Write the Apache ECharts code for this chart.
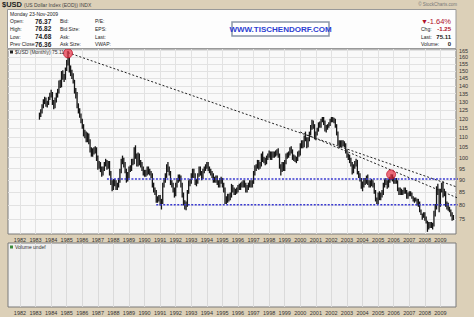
<!DOCTYPE html>
<html>
<head>
<meta charset="utf-8">
<script src="https://cdn.jsdelivr.net/npm/echarts/dist/echarts.min.js"></script>
<style>
html, body { margin: 0; padding: 0; background: #dcd0b8; }
#chart { width: 474px; height: 317px; }
</style>
</head>
<body>
<div id="chart"></div>
<script>
// year tick labels and price tick labels (log scale)
var yearTicks = [1982, 1983, 1984, 1985, 1986, 1987, 1988, 1989, 1990, 1991, 1992, 1993, 1994, 1995,
  1996, 1997, 1998, 1999, 2000, 2001, 2002, 2003, 2004, 2005, 2006, 2007, 2008, 2009];
var priceTicks = [75, 80, 85, 90, 95, 100, 105, 110, 115, 120, 125, 130, 135, 140, 145, 150, 155, 160, 165];

// monthly bars, first one is April 1983
var startYear = 1983, startMonth = 4;
var usdHigh = [
  123.5, 125.5, 128.5, 131.5, 133, 132.5, 130.5, 133, 135.5,                 // 1983
  137.5, 136, 131, 132.5, 135.5, 138, 143.5, 144, 150, 150.5, 148, 152.5,    // 1984
  158, 164.7, 160, 154, 151, 148.5, 144, 138.5, 136, 129, 126, 123,          // 1985
  120, 117, 114, 113, 112.5, 112, 109, 105, 104.5, 105, 105.5, 105,          // 1986
  101, 98.5, 98, 96, 96, 98, 99.5, 99, 98.5, 98.5, 94, 90,                   // 1987
  90.5, 90.5, 90, 89, 91, 95, 99.5, 101, 100, 98, 95, 93.5,                  // 1988
  96, 96.5, 99.5, 99.5, 105, 106, 102, 102.5, 102, 99, 98, 96,               // 1989
  94.5, 94.5, 96, 96, 95, 94, 93, 89, 87, 86, 83.5, 84,                      // 1990
  84, 82.5, 89, 91, 93, 97, 98, 96, 94, 90, 89, 87,                          // 1991
  89, 91, 92.5, 92.5, 92, 89, 85, 82, 81.5, 86, 90, 90.5,                    // 1992
  93, 95, 95, 93, 90.5, 93, 96, 96, 94, 95, 96, 97,                          // 1993
  98, 98, 96, 95, 94, 93, 91.5, 92, 92, 90, 91, 91.5,                        // 1994
  91, 89, 87, 83.5, 84.5, 84.5, 85, 88.5, 88, 87, 86.5, 87,                  // 1995
  88, 88.5, 89, 89.5, 90, 90, 89, 88, 89, 90, 90, 90,                        // 1996
  94, 96.5, 97, 99, 99, 98, 102, 103, 100.5, 100, 101, 102,                  // 1997
  103.5, 103, 103, 103, 103, 103.5, 104, 104.5, 102, 97, 98, 98,             // 1998
  99, 102, 102.5, 103, 105, 105.5, 104, 101.5, 101, 100.5, 103, 103.5,       // 1999
  107, 108.5, 108.5, 111, 113, 110, 110, 113, 116.5, 119.5, 119, 117,        // 2000
  113, 115, 118, 118.5, 120, 121, 121, 119, 116.5, 117, 118, 120,            // 2001
  121, 121, 120.5, 120, 117, 113, 108.5, 108.5, 108.5, 108.5, 108, 107,      // 2002
  104, 102, 101.5, 100, 98, 97, 98.5, 99.5, 99, 94, 93, 91,                  // 2003
  89.5, 91, 91, 92, 92.5, 90, 90, 90.5, 90, 89, 86, 83,                      // 2004
  85, 85.5, 85, 86, 89, 90.5, 91, 90, 90.5, 91.5, 92.6, 92.5,                // 2005
  91.5, 91, 91, 90, 87, 87, 86.5, 86, 87, 87, 86, 85,                        // 2006
  85.5, 85.5, 85, 83.5, 83, 83, 82.5, 82.5, 81.5, 78.5, 77, 77.5,            // 2007
  77.5, 76, 74.5, 74, 74, 74, 73.8, 78, 80.5, 87.5, 88.5, 86.5,              // 2008
  86.5, 89, 89.6, 86.5, 85.5, 81.5, 81, 79.5, 78.5, 77.5, 76.5               // 2009
];
var usdLow = [
  119.5, 121, 123, 126, 128.5, 127, 126.5, 128, 131,                         // 1983
  132.5, 128, 125.5, 126, 129.5, 132.5, 135, 138.5, 139, 144, 142.5, 144,    // 1984
  150, 154, 149, 146.5, 144.5, 141.5, 135, 132, 126, 123, 120.5, 117.5,      // 1985
  114.5, 110.5, 109.5, 107.5, 107.5, 106.5, 102.5, 100.5, 100.5, 101.5, 102, 98.5, // 1986
  94.5, 95, 93.5, 91.5, 92, 94, 96, 94.5, 95, 92, 88, 85.5,                  // 1987
  86, 87.5, 86, 86, 87, 89, 93, 97, 95.5, 93, 89, 89.5,                      // 1988
  91, 93.5, 94, 96.5, 97, 99.5, 96, 96, 96.5, 95.5, 94, 92,                  // 1989
  91.5, 91.5, 92, 92.5, 92, 91, 87, 85, 84, 81, 81, 81.5,                    // 1990
  80, 78.5, 80.5, 87, 89, 91, 93.5, 92, 88, 87, 85, 83,                      // 1991
  83.5, 87, 89, 89.5, 87, 83, 80, 78.5, 78.2, 79.5, 84.5, 87.5,              // 1992
  88.5, 91, 91, 88, 87.5, 88.5, 91.5, 92, 90, 90.5, 93, 94,                  // 1993
  95, 94, 93, 92, 91, 89, 89, 89, 88, 87, 87, 88.5,                          // 1994
  87, 85, 80.5, 80.5, 81, 81.5, 82, 83, 85, 84, 84, 84.5,                    // 1995
  85, 86, 86, 87, 87, 87, 85, 85, 86, 87, 87, 87,                            // 1996
  88.5, 92, 94, 95, 94.5, 95, 96, 98, 97.5, 96.5, 97, 99,                    // 1997
  100, 99, 99, 100, 100, 100.5, 101, 100, 95, 92, 93.5, 94,                  // 1998
  94, 97, 99.5, 100, 101, 102, 99, 98.5, 98, 97.5, 98.5, 100.5,              // 1999
  101, 104.5, 104.5, 105, 108, 104.5, 105, 108, 111, 114, 114.5, 109,        // 2000
  108.5, 111, 113, 115, 115, 118, 116.5, 113, 112.5, 114, 115, 116,          // 2001
  118, 118, 117.5, 115, 111, 106, 104.5, 105, 105, 105.5, 105, 102,          // 2002
  100, 99, 97.5, 96, 92.5, 93, 95, 96, 92.5, 91, 89.5, 86.5,                 // 2003
  85.5, 87, 88, 88.5, 88, 87, 87, 87.5, 87, 84.5, 81.5, 80.5,                // 2004
  80.5, 82, 82, 83, 84, 87, 88, 86.5, 87, 89, 90, 89.5,                      // 2005
  88.5, 88.5, 88.5, 85.5, 84, 84, 84, 84, 84.5, 84.5, 82.5, 82.5,            // 2006
  83.5, 83.5, 82.5, 81.5, 81, 81.5, 80, 79.5, 77.5, 76.5, 74.8, 75.5,        // 2007
  74.5, 73.5, 70.7, 71.5, 72, 72, 71.5, 72.5, 76, 78.5, 84, 77.5,            // 2008
  79.5, 85, 83, 83.5, 79.5, 78.5, 78, 77.5, 76, 74.5, 74.7                   // 2009
];

// hand drawn annotations: [year-month, value]
var trendUpper = [['1985-02', 163.5], ['2011-03', 84.8]];
var trendLower = [['2000-01', 112.8], ['2011-03', 80.2]];
var resistance = [['1987-08', 90.5], ['2011-03', 90.5]];
var support = [['1990-10', 80.3], ['2011-03', 80.3]];
var highlights = [['1985-02', 163], ['2005-11', 92.5]];

// month -> decimal year for the value x axis
function ym(s) { var p = s.split('-'); return +p[0] + (+p[1] - 1) / 12; }
function toXY(arr) { return arr.map(function (d) { return [ym(d[0]), d[1]]; }); }

var bars = usdHigh.map(function (h, i) {
  return [startYear + (startMonth - 1 + i) / 12, usdLow[i], h];
});

var chart = echarts.init(document.getElementById('chart'), null, { renderer: 'svg' });

var font = 'Liberation Sans';
function txt(x, y, s, size, opts) {
  opts = opts || {};
  return {
    type: 'text', x: x, y: y, z: 100,
    style: {
      text: s, fontSize: size, fontFamily: font,
      fontWeight: opts.bold ? 'bold' : 'normal',
      fill: opts.color || '#222',
      textAlign: opts.align || 'left', textVerticalAlign: 'middle'
    }
  };
}

function xAxisFor(idx) {
  return {
    type: 'value', gridIndex: idx,
    min: 1981.23, max: 2010,
    axisLine: { show: false },
    axisTick: { show: false, customValues: yearTicks },
    axisLabel: {
      customValues: yearTicks, fontSize: 5.5, fontFamily: font, color: '#333', margin: 3,
      formatter: function (v) { return String(Math.round(v)); }
    },
    splitLine: { show: true, lineStyle: { color: idx === 0 ? '#e2e2e2' : '#dadada', width: 1 } }
  };
}

var option = {
  animation: false,
  backgroundColor: '#dcd0b8',
  grid: [
    { left: 8, right: 18, top: 49, height: 185, show: true, backgroundColor: '#f9f9f9', borderColor: '#7a7a7a', borderWidth: 1 },
    { left: 8, right: 18, top: 243, height: 64, show: true, backgroundColor: '#f0f0f0', borderColor: '#7a7a7a', borderWidth: 1 }
  ],
  xAxis: [xAxisFor(0), xAxisFor(1)],
  yAxis: [
    {
      type: 'log', gridIndex: 0, position: 'right', logBase: 10,
      min: 70, max: 166.3,
      axisLine: { show: false },
      axisTick: { show: false, customValues: priceTicks },
      axisLabel: { customValues: priceTicks, fontSize: 5.5, fontFamily: font, color: '#333', margin: 3 },
      splitLine: { show: true, lineStyle: { color: '#e2e2e2' } }
    },
    { type: 'value', gridIndex: 1, show: false, min: 0, max: 1 }
  ],
  series: [
    {
      type: 'custom', name: '$USD', xAxisIndex: 0, yAxisIndex: 0,
      encode: { x: 0, y: [1, 2] },
      data: bars,
      renderItem: function (params, api) {
        var top = api.coord([api.value(0), api.value(2)]);
        var bot = api.coord([api.value(0), api.value(1)]);
        return {
          type: 'rect',
          shape: { x: top[0] - 0.65, y: top[1], width: 1.3, height: Math.max(1, bot[1] - top[1]) },
          style: { fill: '#151515' }
        };
      }
    },
    {
      type: 'line', data: toXY(trendUpper), symbol: 'none', clip: false, z: 5,
      lineStyle: { color: '#222', width: 1, type: [2, 2] }
    },
    {
      type: 'line', data: toXY(trendLower), symbol: 'none', clip: false, z: 5,
      lineStyle: { color: '#222', width: 1, type: [2, 2] }
    },
    {
      type: 'line', data: toXY(resistance), symbol: 'none', clip: false, z: 5,
      lineStyle: { color: '#3a3ad0', width: 1.5, type: [2, 1.5] }
    },
    {
      type: 'line', data: toXY(support), symbol: 'none', clip: false, z: 5,
      lineStyle: { color: '#3a3ad0', width: 1.5, type: [2, 1.5] }
    },
    {
      type: 'scatter', data: toXY(highlights), symbolSize: 9, z: 6,
      itemStyle: { color: 'rgba(230,40,60,0.85)', borderColor: '#c01830', borderWidth: 1 }
    }
  ],
  graphic: [
    // title line
    txt(2, 4.5, '$USD', 7.5, { bold: true }),
    txt(24, 4.5, '(US Dollar Index (EOD)) INDX', 5, { color: '#444' }),
    txt(457, 4.5, '\u00a9 StockCharts.com', 4.5, { color: '#777', align: 'right' }),
    // quote box
    { type: 'rect', z: 90, shape: { x: 7.5, y: 9.5, width: 448.5, height: 39 }, style: { fill: '#fdfdfd', stroke: '#999', lineWidth: 1 } },
    txt(10, 14, 'Monday 23-Nov-2009', 5),
    txt(10, 21, 'Open:', 5), txt(35, 21, '76.37', 6.5, { bold: true }), txt(60, 21, 'Bid:', 5), txt(95, 21, 'P/E:', 5),
    txt(10, 28.5, 'High:', 5), txt(35, 28.5, '76.82', 6.5, { bold: true }), txt(60, 28.5, 'Bid Size:', 5), txt(95, 28.5, 'EPS:', 5),
    txt(10, 36.5, 'Low:', 5), txt(35, 36.5, '74.68', 6.5, { bold: true }), txt(60, 36.5, 'Ask:', 5), txt(95, 36.5, 'Last:', 5),
    txt(10, 44, 'Prev Close:', 5), txt(35, 44, '76.36', 6.5, { bold: true }), txt(60, 44, 'Ask Size:', 5), txt(95, 44, 'VWAP:', 5),
    // site box
    { type: 'rect', z: 95, shape: { x: 232, y: 22, width: 97, height: 14 }, style: { fill: '#ffffff', stroke: '#8a96a8', lineWidth: 1.5 } },
    txt(280.5, 29.5, 'WWW.TISCHENDORF.COM', 8, { bold: true, color: '#2d3fd2', align: 'center' }),
    // change block
    txt(421, 21, '\u25bc', 7, { color: '#b0102a' }),
    txt(451, 21, '-1.64%', 7.5, { color: '#b0102a', align: 'right' }),
    txt(421, 29, 'Chg:', 5), txt(451, 29, '-1.25', 6, { bold: true, color: '#b0102a', align: 'right' }),
    txt(421, 36.5, 'Last:', 5), txt(451, 36.5, '75.11', 6, { bold: true, align: 'right' }),
    txt(421, 44, 'Volume:', 5), txt(451, 44, '0', 6, { bold: true, align: 'right' }),
    // panel legends
    { type: 'rect', z: 100, shape: { x: 10, y: 50.5, width: 3, height: 3 }, style: { fill: '#222' } },
    txt(15, 52, '$USD (Monthly) 75.11', 5, { color: '#333' }),
    { type: 'rect', z: 100, shape: { x: 10, y: 245.5, width: 3, height: 3 }, style: { fill: '#3a8a3a' } },
    txt(15, 247, 'Volume undef', 5, { color: '#333' })
  ]
};

chart.setOption(option);
window.addEventListener('resize', function () { chart.resize(); });
</script>
</body>
</html>
